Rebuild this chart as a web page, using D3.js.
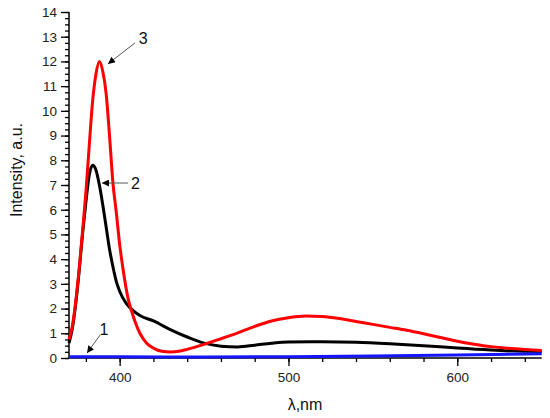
<!DOCTYPE html>
<html><head><meta charset="utf-8">
<script src="https://cdn.jsdelivr.net/npm/d3@7"></script>
<style>body{margin:0;background:#fff}svg{display:block}text{font-family:"Liberation Sans",Arial,sans-serif}</style>
</head><body><svg id="c" width="550" height="418"></svg>
<script>
// wavelength grid (nm) and series
const wl1 = [370,400,450,500,550,600,650];
const s1 = [0.05,0.05,0.04,0.05,0.08,0.12,0.17];

const wl2 = [370,372,374,376,378,380,382,384,386,388,390,392,394,396,398,400,404,408,412,420,430,440,450,460,470,480,490,500,520,540,560,580,600,620,640,650];
const s2 = [0.6,1.2,2.2,3.5,5.0,6.3,7.4,7.8,7.6,7.0,6.2,5.3,4.4,3.7,3.1,2.7,2.2,1.92,1.72,1.5,1.15,0.85,0.6,0.48,0.45,0.52,0.6,0.65,0.66,0.64,0.58,0.5,0.4,0.32,0.27,0.26];

const wl3 = [370,372,374,376,378,380,382,384,386,388,390,392,394,396,398,400,402,405,408,412,416,420,425,430,435,440,450,460,470,480,490,500,510,520,530,540,550,560,570,580,590,600,610,620,630,640,650];
const s3 = [0.75,1.3,2.3,3.6,5.1,6.7,8.6,10.4,11.5,12.0,11.6,10.7,9.0,7.1,5.9,4.6,3.6,2.4,1.7,1.0,0.6,0.4,0.27,0.24,0.27,0.35,0.55,0.78,1.02,1.28,1.5,1.63,1.7,1.68,1.6,1.48,1.36,1.24,1.12,0.98,0.83,0.68,0.56,0.46,0.39,0.34,0.3];

const xTicks = [400,500,600];
const yTicks = [0,1,2,3,4,5,6,7,8,9,10,11,12,13,14];

// annotations: label, text pos, arrow start, arrow end (data coords)
const labels = ["1","2","3"];
const labelPos = [[390.7,1.17],[409.3,7.08],[414,12.95]];
const arrowFrom = [[388.4,0.93],[405,7.08],[409.1,12.75]];
const arrowTo = [[380.7,0.2],[389.5,7.08],[393.1,11.9]];

const svg = d3.select("#c");
const x = d3.scaleLinear().domain([370,650]).range([69,541.7]);
const y = d3.scaleLinear().domain([0,14]).range([358,12]);

svg.append("defs").append("marker").attr("id","ah").attr("viewBox","0 0 10 10")
  .attr("refX",10).attr("refY",5).attr("markerWidth",9).attr("markerHeight",7)
  .attr("markerUnits","userSpaceOnUse").attr("orient","auto")
  .append("path").attr("d","M0,0L10,5L0,10z").attr("fill","#000");

const xAx = svg.append("g").attr("transform",`translate(0,${y(0)})`)
  .call(d3.axisBottom(x).tickValues(d3.range(380,651,20)).tickSize(4).tickFormat(""));
const xAxM = svg.append("g").attr("transform",`translate(0,${y(0)})`)
  .call(d3.axisBottom(x).tickValues(xTicks).tickSize(8).tickPadding(6).tickFormat(d3.format("d")));
const yAx = svg.append("g").attr("transform",`translate(${x(370)},0)`)
  .call(d3.axisLeft(y).tickValues(d3.range(0,14.01,0.25)).tickSize(4).tickFormat(""));
const yAxM = svg.append("g").attr("transform",`translate(${x(370)},0)`)
  .call(d3.axisLeft(y).tickValues(yTicks).tickSize(8).tickPadding(4).tickFormat(d3.format("d")));
[xAx,xAxM,yAx,yAxM].forEach(g=>{
  g.select(".domain").attr("stroke","#000").attr("stroke-width",1.5);
  g.selectAll(".tick line").attr("stroke","#000").attr("stroke-width",1.3);
  g.selectAll("text").attr("font-size",13.5).attr("fill","#222").style("font-family","'Liberation Sans',Arial,sans-serif");
});
xAx.select(".domain").attr("d",`M${x(370)},0H${x(650)}`);
yAx.select(".domain").attr("d",`M0,${y(0)}V${y(14)}`);
xAxM.select(".domain").remove(); yAxM.select(".domain").remove();

const line = d3.line().x(d=>x(d[0])).y(d=>y(d[1])).curve(d3.curveMonotoneX);
const g = svg.append("g");
g.append("path").datum(wl2.map((w,i)=>[w,s2[i]])).attr("d",line).attr("fill","none").attr("stroke","#000").attr("stroke-width",3);
g.append("path").datum(wl3.map((w,i)=>[w,s3[i]])).attr("d",line).attr("fill","none").attr("stroke","#f00").attr("stroke-width",3);
g.append("path").datum(wl1.map((w,i)=>[w,s1[i]])).attr("d",line).attr("fill","none").attr("stroke","#1515ff").attr("stroke-width",3);

labels.forEach((t,i)=>{
  svg.append("line").attr("x1",x(arrowFrom[i][0])).attr("y1",y(arrowFrom[i][1]))
    .attr("x2",x(arrowTo[i][0])).attr("y2",y(arrowTo[i][1]))
    .attr("stroke","#555").attr("stroke-width",1).attr("marker-end","url(#ah)");
  svg.append("text").attr("x",x(labelPos[i][0])).attr("y",y(labelPos[i][1])).attr("dy","0.35em")
    .attr("text-anchor","middle").attr("font-size",16).attr("fill","#111").text(t);
});

svg.append("text").attr("transform",`translate(16,170) rotate(-90)`)
  .attr("text-anchor","middle").attr("dy","0.35em").attr("font-size",16).attr("fill","#111").text("Intensity, a.u.");
svg.append("text").attr("x",305).attr("y",404).attr("dy","0.35em").attr("text-anchor","middle")
  .attr("font-size",16).attr("fill","#111").text("λ,nm");
</script></body></html>
